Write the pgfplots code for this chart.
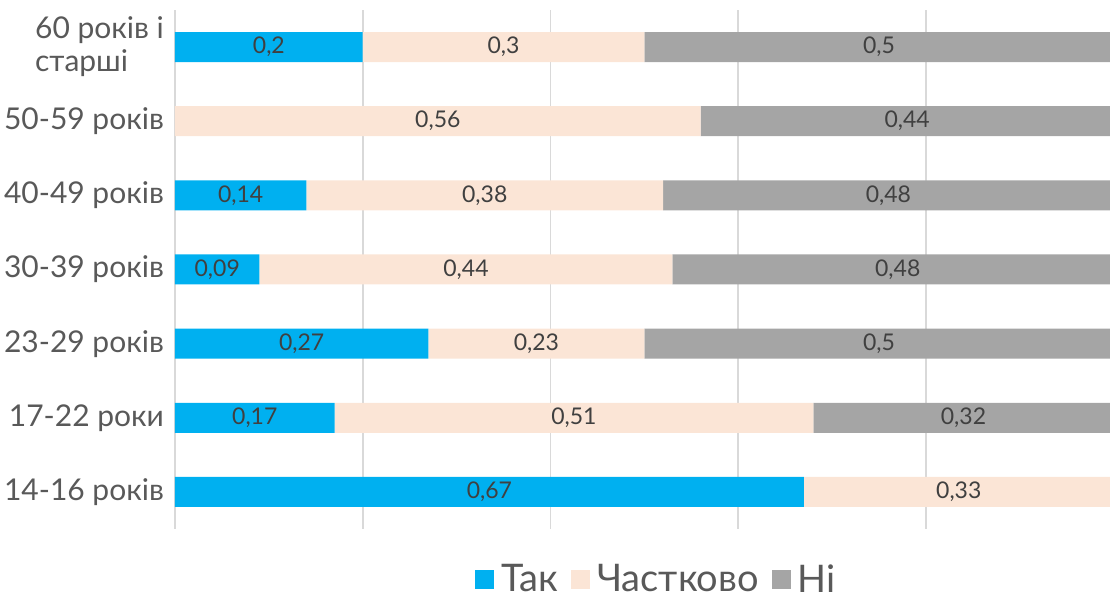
\documentclass[border=0pt]{standalone}
\usepackage{fontspec}
\setmainfont{Lato}
\usepackage{pgfplots}
\pgfplotsset{compat=1.18}
\definecolor{tak}{HTML}{00B0F0}
\definecolor{chast}{HTML}{FBE5D6}
\definecolor{ni}{HTML}{A5A5A5}
\definecolor{txt}{HTML}{595959}
\definecolor{lbl}{HTML}{404040}
\definecolor{gridc}{HTML}{D9D9D9}
\begin{document}
\begin{tikzpicture}
% page = visible part of the chart (right edge is cut in the reference)
\path[use as bounding box] (-87.5pt,-34.5pt) rectangle (467.5pt,264.5pt);
\begin{axis}[
  scale only axis, width=474.5pt, height=259.5pt,
  xbar stacked, bar width=15pt,
  xmin=0, xmax=1.011, ymin=-0.5, ymax=6.5,
  xtick={0,0.2,0.4,0.6,0.8}, xticklabels={},
  xmajorgrids, grid style={gridc, line width=0.8pt},
  ytick={0,...,6},
  yticklabels={14-16 років,17-22 роки,23-29 років,30-39 років,40-49 років,50-59 років,{60 років і\\старші}},
  yticklabel style={font=\fontsize{15}{16.5}\selectfont, text=txt, align=left, xshift=-2pt},
  major tick length=0pt,
  axis line style={draw=none},
  point meta=explicit symbolic,
  nodes near coords,
  every node near coord/.append style={anchor=center, font=\fontsize{11.5}{13}\selectfont,
    text=lbl},
  legend style={at={(0.508,-0.098)}, anchor=center, draw=none, legend columns=-1,
    font=\fontsize{19}{21}\selectfont, text=txt,
    nodes={inner sep=1.5pt},
    /tikz/every odd column/.append style={column sep=2pt},
    /tikz/every even column/.append style={column sep=5pt}},
  legend image code/.code={\fill[#1] (0pt,-4.75pt) rectangle (9.5pt,4.75pt);},
]
\addplot[fill=tak, draw=none] coordinates {
  (0.67,0)[0,67] (0.17,1)[0,17] (0.27,2)[0,27] (0.09,3)[0,09]
  (0.14,4)[0,14] (0,5)[] (0.2,6)[0,2]};
\addplot[fill=chast, draw=none] coordinates {
  (0.33,0)[0,33] (0.51,1)[0,51] (0.23,2)[0,23] (0.44,3)[0,44]
  (0.38,4)[0,38] (0.56,5)[0,56] (0.3,6)[0,3]};
\addplot[fill=ni, draw=none] coordinates {
  (0,0)[] (0.32,1)[0,32] (0.5,2)[0,5] (0.48,3)[0,48]
  (0.48,4)[0,48] (0.44,5)[0,44] (0.5,6)[0,5]};
\legend{Так,Частково,Ні}
\end{axis}
\end{tikzpicture}
\end{document}
